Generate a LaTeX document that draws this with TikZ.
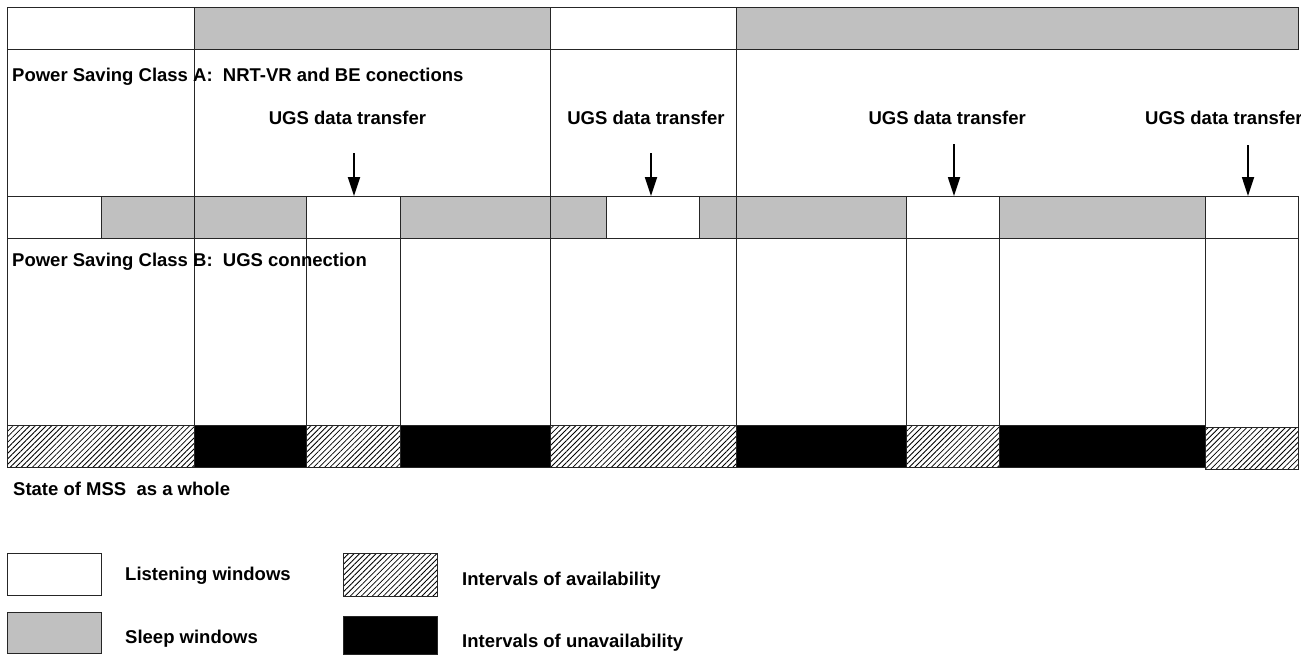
\documentclass[tikz,border=0pt]{standalone}
\usepackage{fontspec}
\setmainfont{Liberation Sans}
\usetikzlibrary{arrows.meta,patterns.meta}
\definecolor{sleepgray}{HTML}{C0C0C0}
\definecolor{framecol}{HTML}{262626}
\begin{document}
\begin{tikzpicture}[x=1pt,y=-1pt,
  frame/.style={draw=framecol,line width=1pt},
  listen/.style={frame,fill=white},
  sleepw/.style={frame,fill=sleepgray},
  avail/.style={frame,fill=white,postaction={pattern={Lines[angle=45,distance=3.9pt,line width=0.8pt]},draw=framecol,line width=1pt}},
  unavail/.style={frame,fill=black},
  lbl/.style={font=\fontsize{18.5}{22}\selectfont\bfseries,inner sep=0pt,anchor=base west},
  arr/.style={-{Triangle[length=19pt,width=12pt]},line width=1.8pt,draw=black}]
\clip (0,0) rectangle (1301,654);
\useasboundingbox (0,0) rectangle (1301,654);
% top bar: class A
\draw[listen] (7,7) rectangle (194,49);
\draw[sleepw] (194,7) rectangle (550,49);
\draw[listen] (550,7) rectangle (736,49);
\draw[sleepw] (736,7) rectangle (1298,49);
% vertical lines between bars
\foreach \x in {7,194,550,736} \draw[frame] (\x,49) -- (\x,196);
% middle bar: class B
\foreach \a/\b/\s in {7/101/listen,101/194/sleepw,194/306/sleepw,306/400/listen,400/550/sleepw,550/606/sleepw,606/699/listen,699/736/sleepw,736/906/sleepw,906/999/listen,999/1205/sleepw,1205/1298/listen}
  \draw[\s] (\a,196) rectangle (\b,238);
% vertical lines down to state bar
\foreach \x in {7,194,306,400,550,736,906,999,1205} \draw[frame] (\x,238) -- (\x,425);
\draw[frame] (1298,238) -- (1298,427);
% state of MSS bar
\foreach \a/\b/\s in {7/194/avail,194/306/unavail,306/400/avail,400/550/unavail,550/736/avail,736/906/unavail,906/999/avail,999/1205/unavail}
  \draw[\s] (\a,425) rectangle (\b,467);
\draw[avail] (1205,427) rectangle (1298,469);
% texts
\node[lbl] (classA) at (12,81) {Power Saving Class A:\ \ NRT-VR and BE conections};
\node[lbl] (classB) at (12,266) {Power Saving Class B:\ \ UGS connection};
\node[lbl,anchor=base] (u1) at (347.5,124) {UGS data transfer};
\node[lbl,anchor=base] (u2) at (646,124) {UGS data transfer};
\node[lbl,anchor=base east] (u3) at (1026,124) {UGS data transfer};
\node[lbl] (u4) at (1145,124) {UGS data transfer};
% arrows
\coordinate (s1) at (354,153); \coordinate (e1) at (354,196);
\coordinate (s2) at (651,153); \coordinate (e2) at (651,196);
\coordinate (s3) at (954,144); \coordinate (e3) at (954,196);
\coordinate (s4) at (1248,145); \coordinate (e4) at (1248,196);
\foreach \i in {1,2,3,4} \draw[arr] (s\i) -- (e\i);
\node[lbl] (mss) at (13,495) {State of MSS\ \ as a whole};
% legend
\draw[listen] (7,553) rectangle (101,595);
\draw[sleepw] (7,612) rectangle (101,653);
\draw[avail] (343,553) rectangle (437,596);
\draw[unavail] (343,616) rectangle (437,654);
\node[lbl] (lg1) at (125,580) {Listening windows};
\node[lbl] (lg2) at (125,643) {Sleep windows};
\node[lbl] (lg3) at (462,585) {Intervals of availability};
\node[lbl] (lg4) at (462,647) {Intervals of unavailability};
\end{tikzpicture}
\end{document}
